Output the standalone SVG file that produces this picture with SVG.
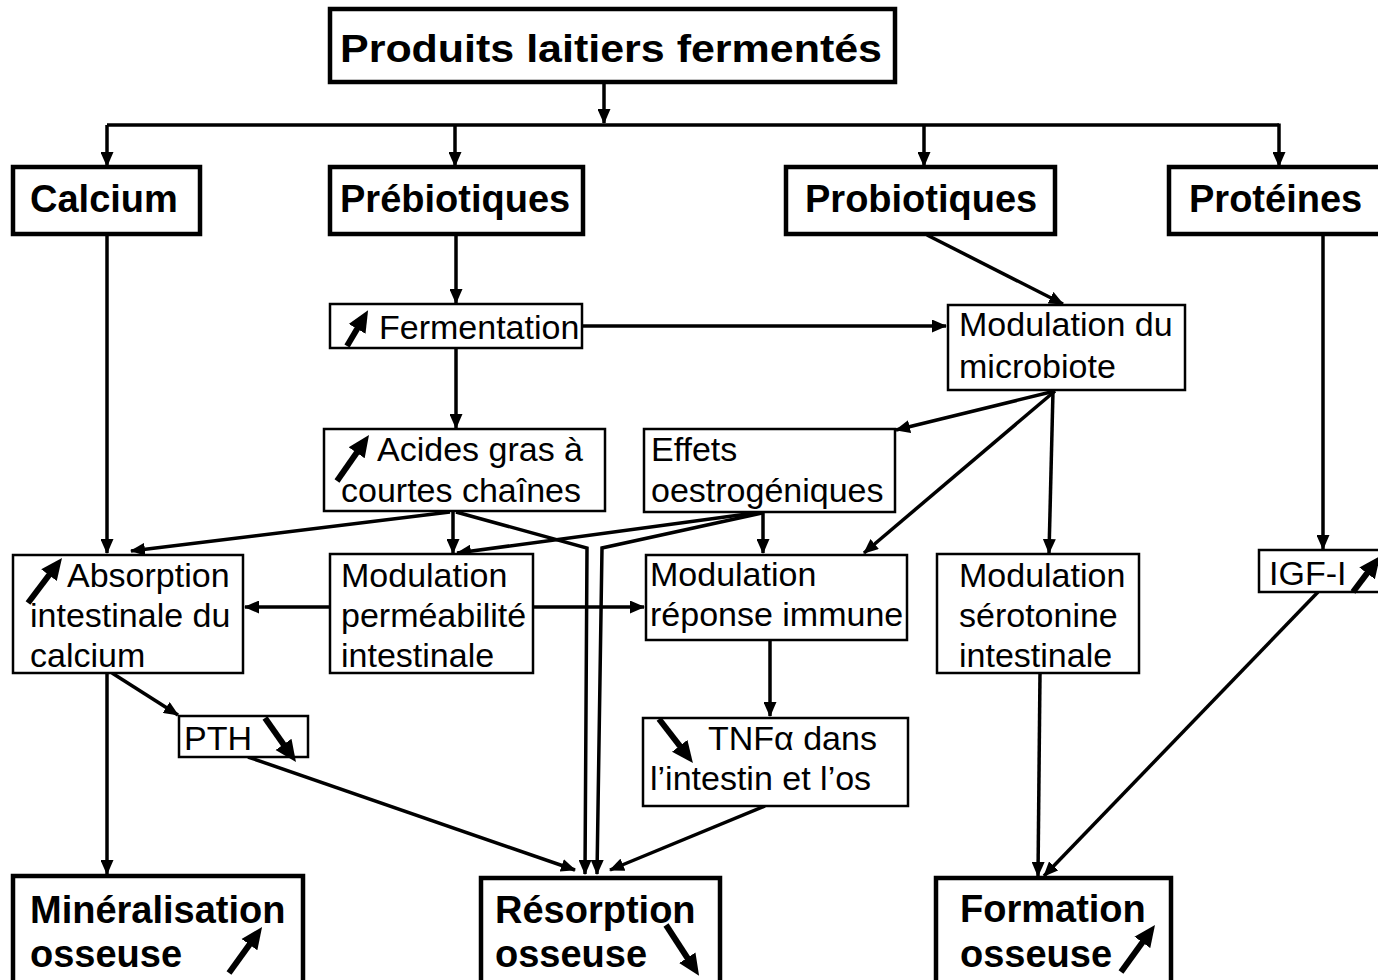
<svg xmlns="http://www.w3.org/2000/svg" width="1378" height="980" viewBox="0 0 1378 980">
<style>
.bx{fill:#fff;stroke:#000;stroke-width:2.5}
.bb{fill:#fff;stroke:#000;stroke-width:4.5}
.t{font-family:"Liberation Sans",Arial,sans-serif;font-size:34px;fill:#000}
.b{font-family:"Liberation Sans",Arial,sans-serif;font-size:38px;font-weight:bold;fill:#000}
.c{fill:none;stroke:#000;stroke-width:3.5;marker-end:url(#ah)}
.n{fill:none;stroke:#000;stroke-width:3.5}
.ic{fill:none;stroke:#000;stroke-width:6;marker-end:url(#big)}
</style>
<defs>
<marker id="ah" markerUnits="userSpaceOnUse" markerWidth="15" markerHeight="13" viewBox="0 0 15 13" refX="14" refY="6.5" orient="auto"><path d="M0,0 L15,6.5 L0,13 z" fill="#000"/></marker>
<marker id="big" markerUnits="strokeWidth" markerWidth="3.6" markerHeight="3.6" viewBox="0 0 10 10" refX="4" refY="5" orient="auto"><path d="M0,0.5 L10,5 L0,9.5 z" fill="#000"/></marker>
</defs>
<rect width="1378" height="980" fill="#fff"/>
<g id="connectors">
<path class="c" d="M604,83 V123"/>
<path class="n" d="M107,125 H1279"/>
<path class="c" d="M107,125 V166"/>
<path class="c" d="M455,125 V166"/>
<path class="c" d="M924,125 V166"/>
<path class="c" d="M1279,123.5 V166"/>
<path class="c" d="M456,234 V303"/>
<path class="c" d="M582,326 H946"/>
<path class="c" d="M927,235 L1063,304"/>
<path class="c" d="M456,348 V428"/>
<path class="c" d="M1055,391 L896,430"/>
<path class="c" d="M1055,391 L864,553"/>
<path class="c" d="M1053,391 L1049,553"/>
<path class="c" d="M107,234 V553"/>
<path class="c" d="M450,512 L131,551"/>
<path class="c" d="M453,512 V553"/>
<path class="c" d="M456,512 L587,548 L585,874"/>
<path class="c" d="M762,512 L457,553"/>
<path class="c" d="M763,512 V553"/>
<path class="c" d="M762,513 L602,548 L597,874"/>
<path class="c" d="M330,607 H245"/>
<path class="c" d="M533,607 H644"/>
<path class="c" d="M1323,234 V549"/>
<path class="c" d="M112,673 L178,715"/>
<path class="c" d="M107,673 V874"/>
<path class="c" d="M248,757 L575,870"/>
<path class="c" d="M770,640 V716"/>
<path class="c" d="M765,806 L610,870"/>
<path class="c" d="M1040,673 L1038,876"/>
<path class="c" d="M1318,592 L1044,876"/>
</g>
<g id="n-title"><rect class="bb" x="330" y="9" width="565" height="73"/><text class="b" x="340" y="62" font-size="42" textLength="542" lengthAdjust="spacingAndGlyphs">Produits laitiers fermentés</text></g>
<g id="n-calcium"><rect class="bb" x="13" y="167" width="187" height="67"/><text class="b" x="30" y="212">Calcium</text></g>
<g id="n-prebio"><rect class="bb" x="330" y="167" width="253" height="67"/><text class="b" x="340" y="212">Prébiotiques</text></g>
<g id="n-probio"><rect class="bb" x="786" y="167" width="269" height="67"/><text class="b" x="805" y="212">Probiotiques</text></g>
<g id="n-proteines"><rect class="bb" x="1169" y="167" width="215" height="67"/><text class="b" x="1189" y="212">Protéines</text></g>
<g id="n-fermentation"><rect class="bx" x="330" y="304" width="252" height="44"/><text class="t" x="379" y="339">Fermentation</text><path class="ic" d="M347,346 L361.5,321.4"/></g>
<g id="n-microbiote"><rect class="bx" x="948" y="305" width="237" height="85"/><text class="t" x="959" y="336">Modulation du</text><text class="t" x="959" y="378">microbiote</text></g>
<g id="n-acides"><rect class="bx" x="324" y="429" width="281" height="82"/><text class="t" x="377" y="461">Acides gras à</text><text class="t" x="341" y="502">courtes chaînes</text><path class="ic" d="M337,481 L361.6,445.7"/></g>
<g id="n-effets"><rect class="bx" x="644" y="429" width="251" height="83"/><text class="t" x="651" y="461">Effets</text><text class="t" x="651" y="502">oestrogéniques</text></g>
<g id="n-absorption"><rect class="bx" x="13" y="555" width="230" height="118"/><text class="t" x="67" y="587">Absorption</text><text class="t" x="30" y="627">intestinale du</text><text class="t" x="30" y="667">calcium</text><path class="ic" d="M28,603 L54.2,568.3"/></g>
<g id="n-permeabilite"><rect class="bx" x="330" y="554" width="203" height="119"/><text class="t" x="341" y="587">Modulation</text><text class="t" x="341" y="627">perméabilité</text><text class="t" x="341" y="667">intestinale</text></g>
<g id="n-reponse"><rect class="bx" x="646" y="555" width="261" height="85"/><text class="t" x="650" y="586">Modulation</text><text class="t" x="650" y="626">réponse immune</text></g>
<g id="n-serotonine"><rect class="bx" x="937" y="554" width="202" height="119"/><text class="t" x="959" y="587">Modulation</text><text class="t" x="959" y="627">sérotonine</text><text class="t" x="959" y="667">intestinale</text></g>
<g id="n-igf"><rect class="bx" x="1259" y="550" width="130" height="42"/><text class="t" x="1269" y="585">IGF-I</text><path class="ic" d="M1353,592 L1372.3,566.4"/></g>
<g id="n-pth"><rect class="bx" x="179" y="716" width="129" height="41"/><text class="t" x="184" y="750">PTH</text><path class="ic" d="M265,718 L288.5,751.4"/></g>
<g id="n-tnf"><rect class="bx" x="643" y="718" width="265" height="88"/><text class="t" x="708" y="750">TNFα dans</text><text class="t" x="650" y="790">l’intestin et l’os</text><path class="ic" d="M659,719 L685,752.7"/></g>
<g id="n-mineralisation"><rect class="bb" x="13" y="876" width="290" height="110"/><text class="b" x="30" y="923">Minéralisation</text><text class="b" x="30" y="967">osseuse</text><path class="ic" d="M229,973 L254.5,937.6"/></g>
<g id="n-resorption"><rect class="bb" x="481" y="878" width="239" height="108"/><text class="b" x="495" y="923">Résorption</text><text class="b" x="495" y="967">osseuse</text><path class="ic" d="M666,925 L692,965"/></g>
<g id="n-formation"><rect class="bb" x="936" y="878" width="235" height="108"/><text class="b" x="960" y="922">Formation</text><text class="b" x="960" y="967">osseuse</text><path class="ic" d="M1121,972 L1147.4,935.4"/></g>
</svg>
